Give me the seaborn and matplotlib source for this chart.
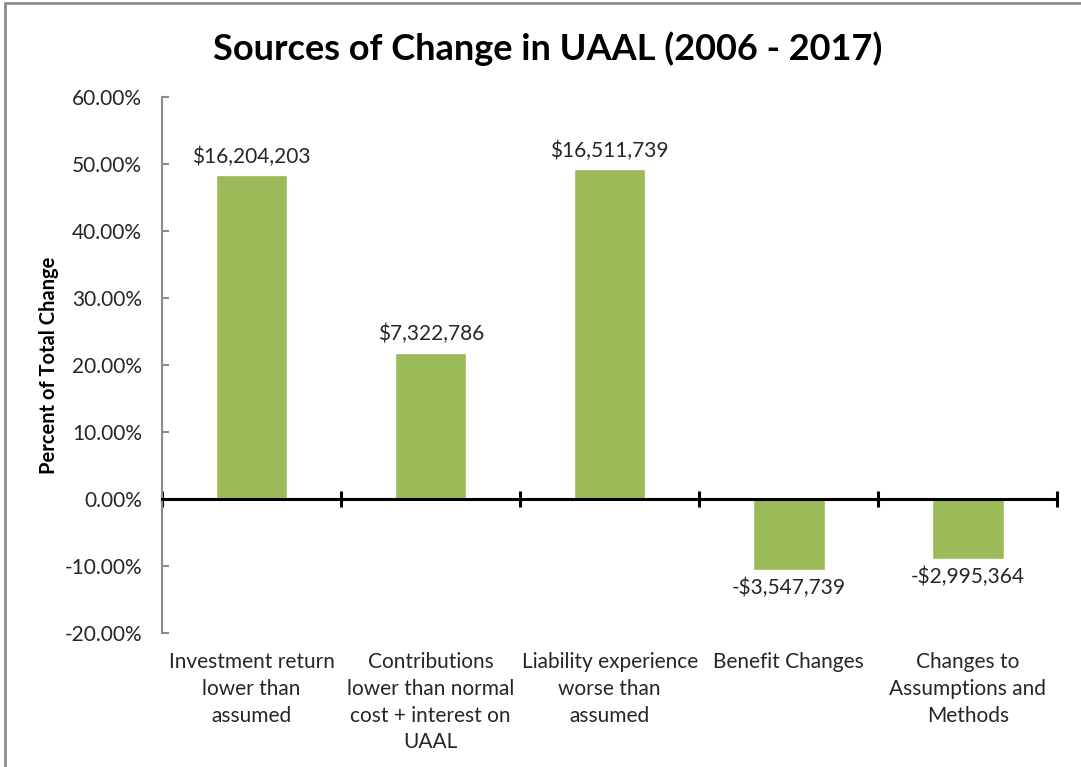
import matplotlib
matplotlib.use("Agg")
import matplotlib.pyplot as plt
import matplotlib.ticker as mticker
from matplotlib.patches import Rectangle
import seaborn as sns
import pandas as pd

categories = [
    "Investment return\nlower than\nassumed",
    "Contributions\nlower than normal\ncost + interest on\nUAAL",
    "Liability experience\nworse than\nassumed",
    "Benefit Changes",
    "Changes to\nAssumptions and\nMethods",
]
pct_change = [48.38, 21.86, 49.29, -10.59, -8.94]
dollar_labels = ["$16,204,203", "$7,322,786", "$16,511,739", "-$3,547,739", "-$2,995,364"]
y_ticks = [-20, -10, 0, 10, 20, 30, 40, 50, 60]

sns.set_style("white")
plt.rcParams["font.family"] = ["Lato", "DejaVu Sans"]

df = pd.DataFrame({"source": categories, "pct": pct_change})

fig = plt.figure(figsize=(10.81, 7.67), dpi=100)
ax = fig.add_axes([0.150, 0.1747, 0.828, 0.6988])

sns.barplot(data=df, x="source", y="pct", color="#9BBB59", width=0.4,
            saturation=1, ax=ax)

ax.set_xlim(-0.5, len(categories) - 0.5)
ax.set_ylim(-20, 60)
ax.set_yticks(y_ticks)
ax.yaxis.set_major_formatter(mticker.FuncFormatter(lambda v, p: f"{v:.2f}%"))
ax.tick_params(axis="y", left=True, direction="in", length=5, width=1.5,
               color="#8c8c8c", labelsize=15, pad=14.5, labelcolor="#262626")

# category separators on the zero line
ax.set_xticks([i - 0.5 for i in range(len(categories) + 1)], minor=True)
ax.tick_params(axis="x", which="major", length=0)
ax.tick_params(axis="x", which="minor", bottom=True, length=12, width=2.2,
               color="black", direction="inout")
for sp in ["top", "right"]:
    ax.spines[sp].set_visible(False)
ax.spines["bottom"].set_position(("data", 0))
ax.spines["bottom"].set_color("black")
ax.spines["bottom"].set_linewidth(2.2)
ax.spines["bottom"].set_zorder(3)
ax.spines["left"].set_color("#8c8c8c")
ax.spines["left"].set_linewidth(1.5)

# category labels sit under the plot area, not under the zero line
ax.set_xticklabels([])
trans = ax.get_xaxis_transform()
for i, c in enumerate(categories):
    ax.text(i, -0.036, c, transform=trans, ha="center", va="top",
            fontsize=15, color="#262626", linespacing=1.42)

for i, (v, s) in enumerate(zip(pct_change, dollar_labels)):
    off = 1.2 if v >= 0 else -1.2
    ax.text(i, v + off, s, ha="center", va="bottom" if v >= 0 else "top",
            fontsize=15, color="#262626")

ax.set_xlabel("")
ax.set_ylabel("Percent of Total Change", fontsize=14.5, fontweight="bold",
              color="black", labelpad=4)
fig.text(0.507, 0.937, "Sources of Change in UAAL (2006 - 2017)", ha="center",
         va="center", fontsize=26, fontweight="bold", color="black")

fig.patches.append(Rectangle((0.005, -0.01), 1.0, 1.006, transform=fig.transFigure,
                             fill=False, edgecolor="#8c8c8c", lw=2))

fig.savefig("out.png", dpi=100)
